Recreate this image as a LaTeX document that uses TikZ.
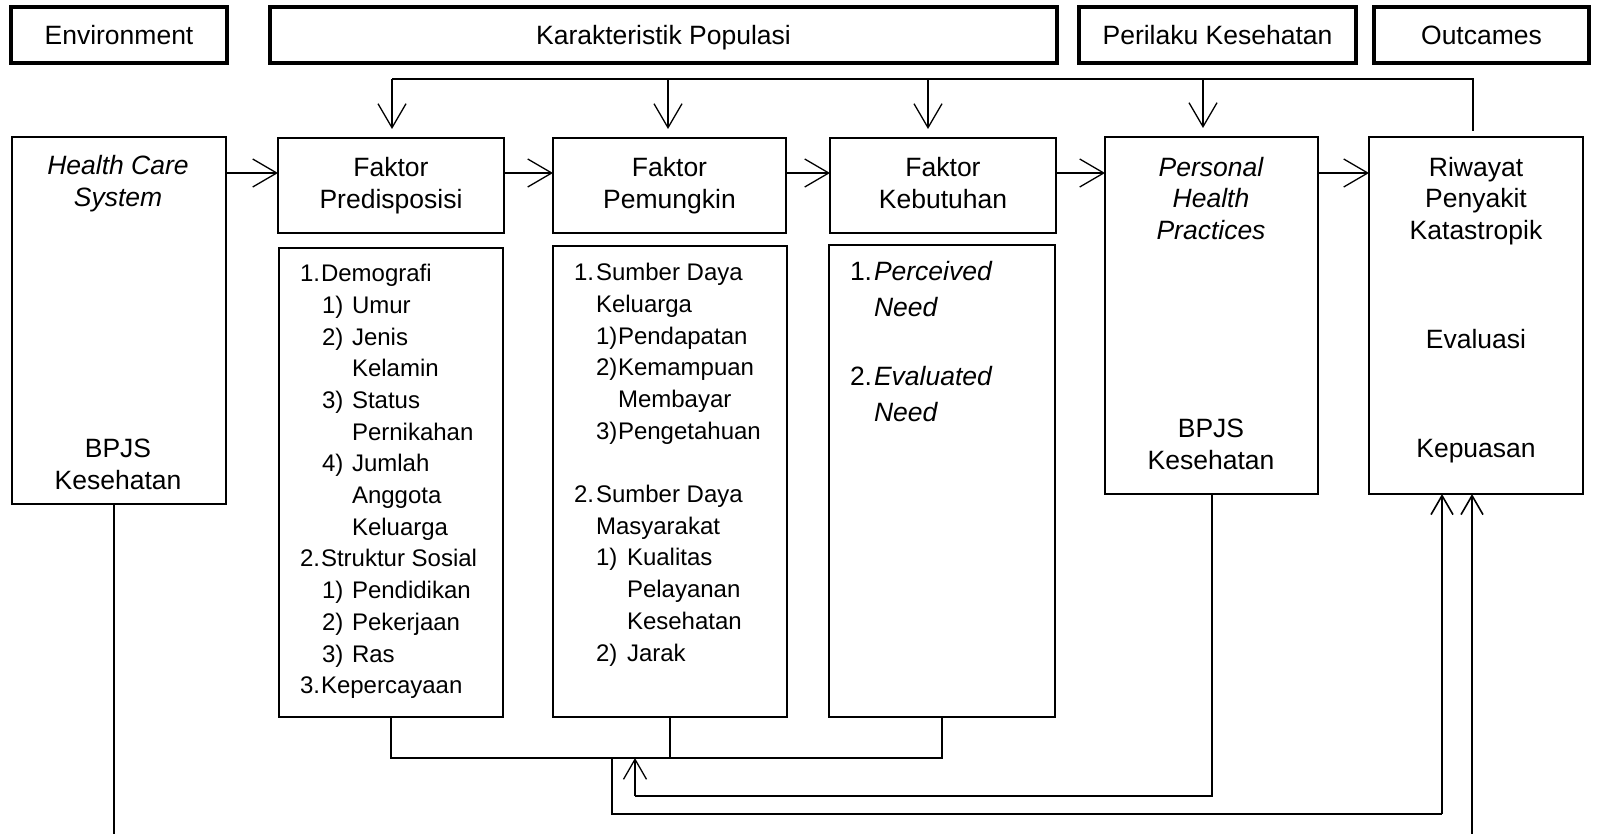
\documentclass[tikz,border=0pt]{standalone}
\usepackage{fontspec}
\setmainfont{Liberation Sans}
\usetikzlibrary{arrows.meta}
\newcommand\fsA{\fontsize{26.5}{31.7}\selectfont}
\newcommand\fsB{\fontsize{24}{31.7}\selectfont}
\begin{document}
\begin{tikzpicture}[x=1pt,y=-1pt,
  every node/.style={inner sep=0pt,outer sep=0pt},
  headbox/.style={draw,line width=3.5pt,font=\fsA,text height=19.3pt,text depth=0pt},
  facbox/.style={draw,line width=2.5pt,font=\fsA,align=center},
  thinbox/.style={draw,line width=1.2pt},
  lblc/.style={anchor=base,font=\fsA},
  lbll/.style={anchor=base west,font=\fsA},
  lbls/.style={anchor=base west,font=\fsB},
  conn/.style={line width=2pt},
  toparr/.style={line width=1.3pt,-{Straight Barb[length=24pt,width=28pt,line width=1.3pt]}},
  botarr/.style={line width=2pt,-{Straight Barb[length=19pt,width=22pt,line width=1.6pt]}},
  midarr/.style={line width=1.3pt,-{Straight Barb[length=20pt,width=23pt,line width=1.3pt]}},
]
\useasboundingbox (0,0) rectangle (1597,834);
\fill[white] (0,0) rectangle (1597,834);

% header row
\node[headbox,minimum width=216pt,minimum height=56pt] (env) at (119,35) {Environment};
\node[headbox,minimum width=787pt,minimum height=56pt] (kar) at (663.5,35) {Karakteristik Populasi};
\node[headbox,minimum width=277pt,minimum height=56pt] (per) at (1217.5,35) {Perilaku Kesehatan};
\node[headbox,minimum width=215pt,minimum height=56pt] (out) at (1481.5,35) {Outcames};

% main boxes
\node[thinbox,minimum width=214pt,minimum height=367pt] (hcs) at (119,320.5) {};
\node[facbox,minimum width=226pt,minimum height=95pt] (fp) at (391,185.5) {Faktor\\Predisposisi};
\node[facbox,minimum width=233pt,minimum height=95pt] (fm) at (669.5,185.5) {Faktor\\Pemungkin};
\node[facbox,minimum width=226pt,minimum height=95pt] (fk) at (943,185.5) {Faktor\\Kebutuhan\vphantom{p}};
\node[thinbox,minimum width=213pt,minimum height=357pt] (php) at (1211.5,315.5) {};
\node[thinbox,minimum width=214pt,minimum height=357pt] (rpk) at (1476,315.5) {};

% list boxes
\node[thinbox,minimum width=224pt,minimum height=469pt] (lp) at (391,482.5) {};
\node[thinbox,minimum width=234pt,minimum height=471pt] (lm) at (670,481.5) {};
\node[thinbox,minimum width=226pt,minimum height=472pt] (lk) at (942,481) {};

% texts in tall boxes
\node[lblc] (hcs1) at (118,174.5) {\itshape Health Care};
\node[lblc] (hcs2) at (118,206.5) {\itshape System};
\node[lblc] (hcs3) at (118,457.5) {BPJS};
\node[lblc] (hcs4) at (118,489.5) {Kesehatan};

\node[lblc] (php1) at (1211,176.5) {\itshape Personal};
\node[lblc] (php2) at (1211,207.5) {\itshape Health};
\node[lblc] (php3) at (1211,239.5) {\itshape Practices};
\node[lblc] (php4) at (1211,437.5) {BPJS};
\node[lblc] (php5) at (1211,469.5) {Kesehatan};

\node[lblc] (rpk1) at (1476,176.5) {Riwayat};
\node[lblc] (rpk2) at (1476,207.5) {Penyakit};
\node[lblc] (rpk3) at (1476,239.5) {Katastropik};
\node[lblc] (rpk4) at (1476,348.5) {Evaluasi};
\node[lblc] (rpk5) at (1476,457.5) {Kepuasan};

% Kebutuhan list
\node[lbll] (lk1) at (850,280.5) {1.};
\node[lbll] (lk2) at (874,280.5) {\itshape Perceived};
\node[lbll] (lk3) at (874,316.5) {\itshape Need};
\node[lbll] (lk4) at (850,385.5) {2.};
\node[lbll] (lk5) at (874,385.5) {\itshape Evaluated};
\node[lbll] (lk6) at (874,421.5) {\itshape Need};

% Predisposisi list
\foreach \k/\x/\t [count=\n] in {0/300/1., 0/321/Demografi,
  1/322/1), 1/352/Umur, 2/322/2), 2/352/Jenis, 3/352/Kelamin,
  4/322/3), 4/352/Status, 5/352/Pernikahan,
  6/322/4), 6/352/Jumlah, 7/352/Anggota, 8/352/Keluarga,
  9/300/2., 9/321/Struktur Sosial,
  10/322/1), 10/352/Pendidikan, 11/322/2), 11/352/Pekerjaan,
  12/322/3), 12/352/Ras, 13/300/3., 13/321/Kepercayaan}
  \node[lbls] (lpt\n) at (\x,281.6+31.7*\k) {\t};

% Pemungkin list
\foreach \k/\x/\t [count=\n] in {0/574/1., 0/596/Sumber Daya, 1/596/Keluarga,
  2/596/1), 2/618/Pendapatan, 3/596/2), 3/618/Kemampuan, 4/618/Membayar,
  5/596/3), 5/618/Pengetahuan,
  7/574/2., 7/596/Sumber Daya, 8/596/Masyarakat,
  9/596/1), 9/627/Kualitas, 10/627/Pelayanan, 11/627/Kesehatan,
  12/596/2), 12/627/Jarak}
  \node[lbls] (lmt\n) at (\x,280.6+31.7*\k) {\t};

% top distribution line
\coordinate (tl) at (392,79);
\coordinate (tr) at (1473,79);
\coordinate (trd) at (1473,131);
\draw[line width=2.2pt] (tl) -- (tr) -- (trd);
\coordinate (a1) at (392,79);
\coordinate (a2) at (668,79);
\coordinate (a3) at (928,79);
\coordinate (a4) at (1203,79);
\draw[toparr,shorten >=9pt] (a1) -- (a1 |- fp.north);
\draw[toparr,shorten >=9pt] (a2) -- (a2 |- fm.north);
\draw[toparr,shorten >=9pt] (a3) -- (a3 |- fk.north);
\draw[toparr,shorten >=9pt] (a4) -- (a4 |- php.north);

% horizontal arrows
\coordinate (ay) at (0,173);
\draw[toparr] (hcs.east |- ay) -- (fp.west |- ay);
\draw[toparr] (fp.east |- ay) -- (fm.west |- ay);
\draw[toparr] (fm.east |- ay) -- (fk.west |- ay);
\draw[toparr] (fk.east |- ay) -- (php.west |- ay);
\draw[toparr] (php.east |- ay) -- (rpk.west |- ay);

% bottom collector
\coordinate (bus) at (0,758);
\draw[conn] (lp.south) -- (lp.south |- bus) -- (lk.south |- bus) -- (lk.south);
\draw[conn] (lm.south) -- (lm.south |- bus);

% personal health practices feedback
\coordinate (fb) at (635,796);
\draw[conn] (php.south) -- (php.south |- fb) -- (fb);
\draw[midarr] (fb) -- (fb |- bus);

% characteristics to outcomes
\coordinate (o1) at (612,758);
\coordinate (o2) at (612,814);
\coordinate (o3) at (1442,814);
\draw[conn] (o1) -- (o2) -- (o3);
\draw[botarr] (o3) -- (o3 |- rpk.south);

% environment to outcomes
\coordinate (e1) at (114,834);
\draw[conn] (e1 |- hcs.south) -- (e1);
\coordinate (e2) at (1472,834);
\draw[botarr] (e2) -- (e2 |- rpk.south);
\end{tikzpicture}
\end{document}
